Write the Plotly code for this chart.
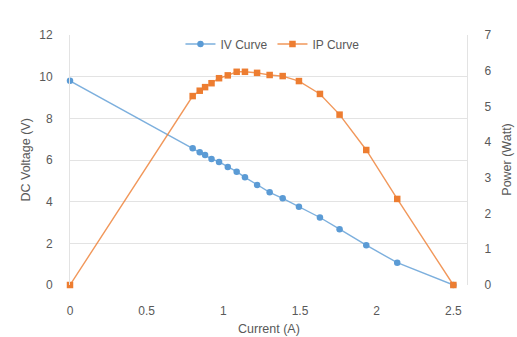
import plotly.graph_objects as go

current = [0, 0.80, 0.846, 0.881, 0.923, 0.972, 1.029, 1.087, 1.141, 1.220, 1.302,
           1.387, 1.493, 1.630, 1.758, 1.932, 2.134, 2.50]
voltage = [9.8, 6.56, 6.37, 6.24, 6.05, 5.91, 5.67, 5.44, 5.17, 4.80, 4.45,
           4.16, 3.76, 3.24, 2.68, 1.91, 1.07, 0]
power = [0, 5.29, 5.44, 5.54, 5.65, 5.79, 5.87, 5.97, 5.97, 5.94, 5.88,
         5.85, 5.71, 5.35, 4.77, 3.78, 2.41, 0]

x_ticks = [0, 0.5, 1, 1.5, 2, 2.5]
v_ticks = [0, 2, 4, 6, 8, 10, 12]
p_ticks = [0, 1, 2, 3, 4, 5, 6, 7]

blue = "#5B9BD5"
orange = "#ED7D31"
grey = "#595959"
axis_grey = "#E3E3E3"
font = "Liberation Sans, Arial, sans-serif"

fig = go.Figure()
fig.add_trace(go.Scatter(
    x=current, y=voltage, name="IV Curve", mode="lines+markers",
    line=dict(color="rgba(91,155,213,0.8)", width=1.4),
    marker=dict(symbol="circle", size=6.5, color=blue),
    cliponaxis=False, yaxis="y"))
fig.add_trace(go.Scatter(
    x=current, y=power, name="IP Curve", mode="lines+markers",
    line=dict(color="rgba(237,125,49,0.8)", width=1.4),
    marker=dict(symbol="square", size=6.5, color=orange),
    cliponaxis=False, yaxis="y2"))

fig.update_layout(
    width=517, height=337,
    margin=dict(l=69.5, r=50.3, t=35, b=52, autoexpand=False),
    paper_bgcolor="white", plot_bgcolor="white",
    font=dict(family=font, size=12, color=grey),
    showlegend=True,
    legend=dict(orientation="h", x=0.51, xanchor="center", y=0.964, yanchor="middle",
                font=dict(size=12, color=grey), itemwidth=30,
                bgcolor="rgba(0,0,0,0)", tracegroupgap=0),
    xaxis=dict(range=[0, 2.589], tickvals=x_ticks, ticktext=[str(v) for v in x_ticks],
               showgrid=False, zeroline=False, showline=False, automargin=False,
               ticks="", ticklabelstandoff=17),
    yaxis=dict(range=[0, 12], tickvals=v_ticks, showgrid=True, gridcolor=axis_grey,
               gridwidth=1, zeroline=False, showline=True, linecolor=axis_grey,
               automargin=False, ticks="", ticklabelstandoff=14),
    yaxis2=dict(range=[0, 7], tickvals=p_ticks, overlaying="y", side="right",
                showgrid=False, zeroline=False, showline=True, linecolor=axis_grey,
                automargin=False, ticks="outside", ticklen=14,
                tickcolor="rgba(0,0,0,0)", anchor="x"),
    yaxis3=dict(range=[0, 7], tickvals=p_ticks, overlaying="y", side="right",
                showgrid=False, zeroline=False, showline=False, showticklabels=False,
                automargin=False, ticks="outside", ticklen=5, tickcolor=axis_grey,
                anchor="x"),
    annotations=[
        dict(text="Current (A)", xref="paper", yref="paper", x=0.5, y=-0.176,
             xanchor="center", yanchor="middle", showarrow=False,
             font=dict(size=12.5, color=grey)),
        dict(text="DC Voltage (V)", xref="paper", yref="paper", x=-0.112, y=0.5,
             xanchor="center", yanchor="middle", showarrow=False, textangle=-90,
             font=dict(size=12.5, color=grey)),
        dict(text="Power (Watt)", xref="paper", yref="paper", x=1.100, y=0.5,
             xanchor="center", yanchor="middle", showarrow=False, textangle=-90,
             font=dict(size=12.5, color=grey)),
    ],
)

# remove the page's default 8px body margin so the figure fills the window exactly
fig.write_html("out.html", config={"displayModeBar": False},
               post_script="document.body.style.margin='0';document.body.style.overflow='hidden';")
